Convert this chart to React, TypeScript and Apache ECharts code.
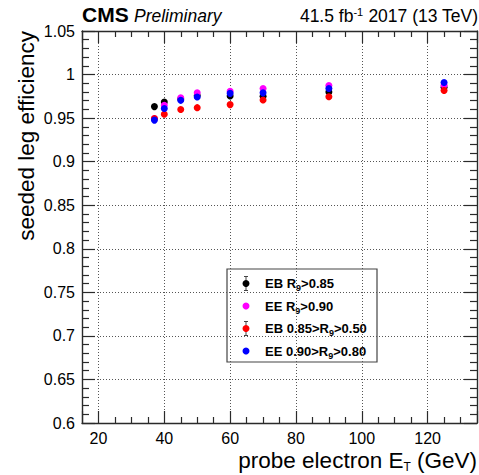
import React, { useEffect, useRef } from "react";
import * as echarts from "echarts";

// ---- data ----
const probeEt = [37, 40, 45, 50, 60, 70, 90, 125];
const ebHighR9 = [0.9632, 0.9685, 0.972, 0.976, 0.9753, 0.975, 0.98, 0.9855];
const eeHighR9 = [0.9495, 0.9648, 0.9734, 0.979, 0.9807, 0.984, 0.9875, 0.9878];
const ebMidR9 = [0.9495, 0.9545, 0.9598, 0.962, 0.9655, 0.9708, 0.9746, 0.9818];
const eeMidR9 = [0.9477, 0.961, 0.9704, 0.9742, 0.9784, 0.979, 0.984, 0.9909];

const seriesNames = ["EB R9>0.85", "EE R9>0.90", "EB 0.85>R9>0.50", "EE 0.90>R9>0.80"];
const legendRich = [
  "{n|EB R}{s|9}{n|>0.85}",
  "{n|EE R}{s|9}{n|>0.90}",
  "{n|EB 0.85>R}{s|9}{n|>0.50}",
  "{n|EE 0.90>R}{s|9}{n|>0.80}",
];
const seriesColors = ["#000000", "#ff00ff", "#ff0000", "#0000ff"];
const legendErrorBars = [true, false, true, false];
const seriesValues = [ebHighR9, eeHighR9, ebMidR9, eeMidR9];

const xMin = 15;
const xMax = 135;
const xStep = 20;
const yMin = 0.6;
const yMax = 1.05;
const yStep = 0.05;

const FONT = "'Liberation Sans', Arial, Helvetica, sans-serif";
const FRAME = "#2a2a2a";

export default function App() {
  const ref = useRef<HTMLDivElement>(null);

  useEffect(() => {
    document.body.style.margin = "0";
    if (!ref.current) return;
    const chart = echarts.init(ref.current, undefined, { renderer: "svg" });

    const axisLine = { show: true, onZero: false, lineStyle: { color: FRAME, width: 1.4 } };
    const tickStyle = { color: FRAME, width: 1.2 };

    const xBase = {
      type: "value" as const,
      min: xMin,
      max: xMax,
      minInterval: xStep,
      maxInterval: xStep,
      axisLine,
      axisTick: { show: true, inside: true, length: 12, lineStyle: tickStyle },
      minorTick: { show: true, splitNumber: 4, length: 6, lineStyle: tickStyle },
    };
    const yBase = {
      type: "value" as const,
      min: yMin,
      max: yMax,
      minInterval: yStep,
      maxInterval: yStep,
      axisLine,
      axisTick: { show: true, inside: true, length: 13, lineStyle: tickStyle },
      minorTick: { show: true, splitNumber: 5, length: 7, lineStyle: tickStyle },
    };

    const legendItems: any[] = [];
    const rowY0 = 283.5;
    const rowStep = 22.5;
    seriesNames.forEach((name, i) => {
      const cy = rowY0 + i * rowStep;
      if (legendErrorBars[i]) {
        legendItems.push(
          { type: "line", shape: { x1: 246, y1: cy - 7, x2: 246, y2: cy + 7 }, style: { stroke: "#444", lineWidth: 1 } },
          { type: "line", shape: { x1: 244, y1: cy - 7, x2: 248, y2: cy - 7 }, style: { stroke: "#444", lineWidth: 1 } },
          { type: "line", shape: { x1: 244, y1: cy + 7, x2: 248, y2: cy + 7 }, style: { stroke: "#444", lineWidth: 1 } }
        );
      }
      legendItems.push(
        { type: "circle", shape: { cx: 246, cy, r: 3.5 }, style: { fill: seriesColors[i] } },
        {
          type: "text",
          x: 265,
          y: cy,
          style: {
            text: legendRich[i],
            align: "left",
            verticalAlign: "middle",
            fill: "#000",
            rich: {
              n: { fontFamily: FONT, fontSize: 13, fontWeight: "bold", color: "#000" },
              s: { fontFamily: FONT, fontSize: 9, fontWeight: "bold", color: "#000", verticalAlign: "bottom", padding: [9, 0, 0, 0] },
            },
          },
        }
      );
    });

    chart.setOption({
      animation: false,
      backgroundColor: "#ffffff",
      grid: { left: 82, right: 2, top: 31, bottom: 52, containLabel: false },
      xAxis: [
        {
          ...xBase,
          position: "bottom",
          axisLabel: {
            show: true,
            showMinLabel: false,
            showMaxLabel: false,
            margin: 7,
            color: "#000",
            fontFamily: FONT,
            fontSize: 16,
            formatter: (v: number) => (Math.abs(v % xStep) < 1e-9 ? String(v) : ""),
          },
          splitLine: { show: true, lineStyle: { type: [1, 2], color: "#555", width: 1 } },
        },
        {
          ...xBase,
          position: "top",
          axisLabel: { show: false },
          splitLine: { show: false },
        },
      ],
      yAxis: [
        {
          ...yBase,
          position: "left",
          axisLabel: {
            show: true,
            margin: 7,
            color: "#000",
            fontFamily: FONT,
            fontSize: 16,
            formatter: (v: number) => String(Number(v.toFixed(2))),
          },
          splitLine: { show: true, lineStyle: { type: [1, 2], color: "#555", width: 1 } },
        },
        {
          ...yBase,
          position: "right",
          axisLabel: { show: false },
          splitLine: { show: false },
        },
      ],
      series: seriesNames.map((name, i) => ({
        name,
        type: "scatter",
        xAxisIndex: 0,
        yAxisIndex: 0,
        symbol: "circle",
        symbolSize: 7,
        itemStyle: { color: seriesColors[i], opacity: 1 },
        data: probeEt.map((x, j) => [x, seriesValues[i][j]]),
        z: 3 + i,
      })),
      graphic: [
        {
          type: "text",
          x: 82,
          y: 14.5,
          style: { text: "CMS", fontFamily: FONT, fontSize: 21, fontWeight: "bold", fill: "#000", align: "left", verticalAlign: "middle" },
        },
        {
          type: "text",
          x: 134,
          y: 15.5,
          style: { text: "Preliminary", fontFamily: FONT, fontSize: 17.5, fontStyle: "italic", fill: "#000", align: "left", verticalAlign: "middle" },
        },
        {
          type: "text",
          x: 478,
          y: 15.5,
          style: {
            text: "{n|41.5 fb}{p|-1}{n| 2017 (13 TeV)}",
            align: "right",
            verticalAlign: "middle",
            rich: {
              n: { fontFamily: FONT, fontSize: 17.5, color: "#000" },
              p: { fontFamily: FONT, fontSize: 11, color: "#000", verticalAlign: "top", padding: [0, 0, 8, 0] },
            },
          },
        },
        {
          type: "text",
          x: 26,
          y: 31,
          rotation: Math.PI / 2,
          style: { text: "seeded leg efficiency", fontFamily: FONT, fontSize: 22.5, fill: "#000", align: "right", verticalAlign: "middle" },
        },
        {
          type: "text",
          x: 477,
          y: 460,
          style: {
            text: "{n|probe electron E}{s|T}{n| (GeV)}",
            align: "right",
            verticalAlign: "middle",
            rich: {
              n: { fontFamily: FONT, fontSize: 22.5, color: "#000" },
              s: { fontFamily: FONT, fontSize: 12, color: "#000", verticalAlign: "bottom", padding: [14, 0, 0, 0] },
            },
          },
        },
        {
          type: "group",
          children: [
            { type: "rect", shape: { x: 227, y: 269, width: 150, height: 93 }, style: { fill: "#fff", stroke: "#444", lineWidth: 1.2 } },
            ...legendItems,
          ],
        },
      ],
    });

    return () => chart.dispose();
  }, []);

  return <div ref={ref} style={{ width: 479, height: 475, position: "absolute", left: 0, top: 0 }} />;
}
